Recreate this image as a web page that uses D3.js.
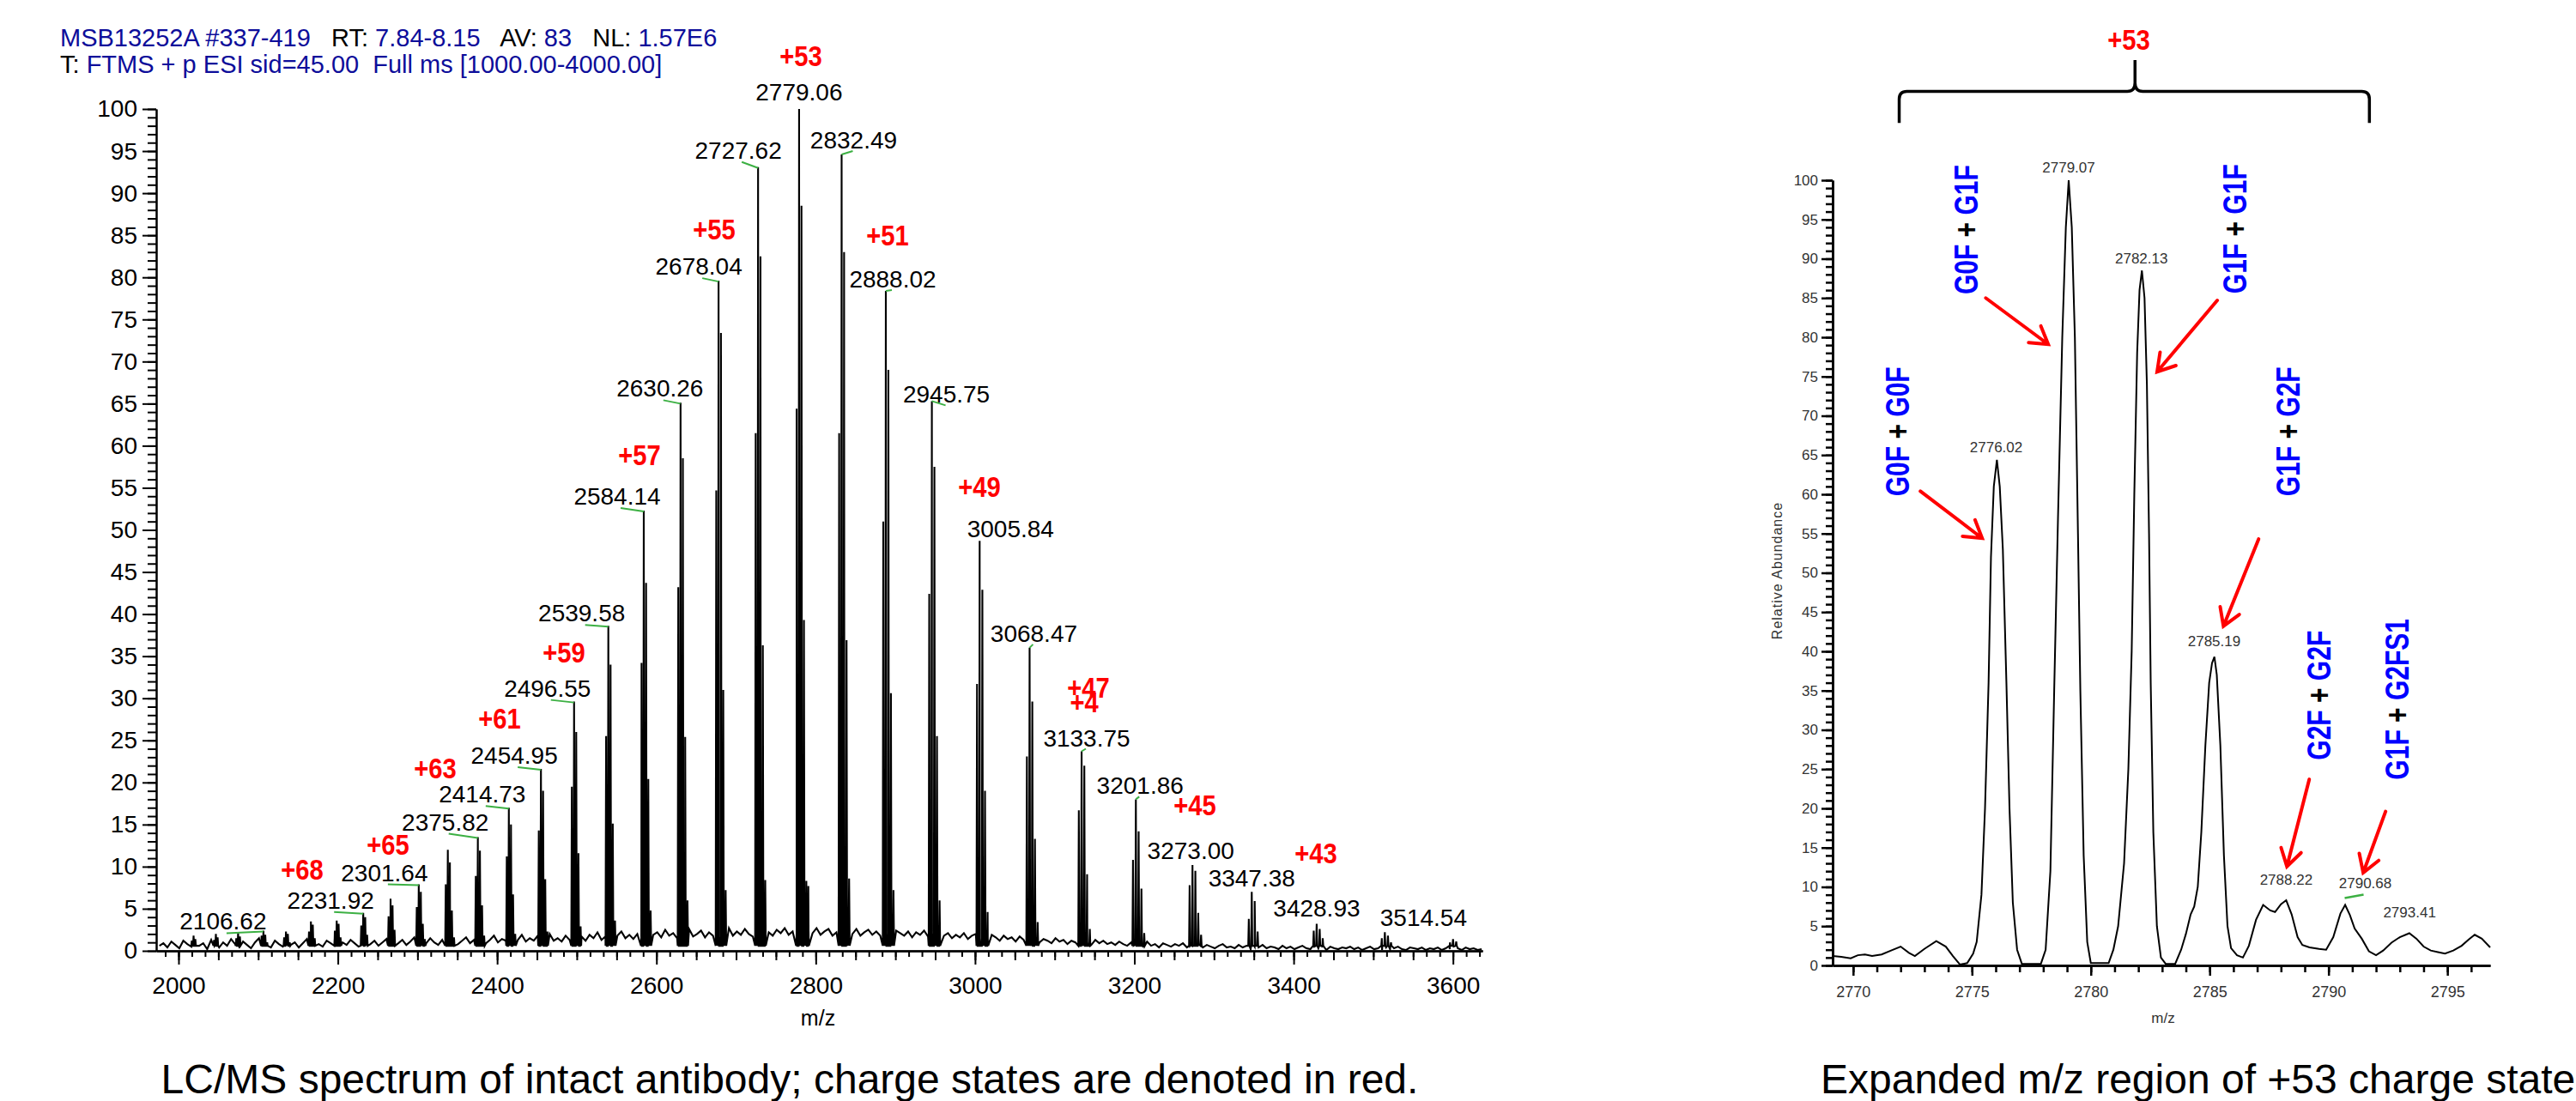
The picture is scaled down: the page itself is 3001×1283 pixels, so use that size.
<!DOCTYPE html>
<html>
<head>
<meta charset="utf-8">
<script src="https://cdn.jsdelivr.net/npm/d3@7"></script>
<style>
  body { margin: 0; background: #fff; }
  svg { display: block; }
  text { font-family: "Liberation Sans", Arial, sans-serif; }
</style>
</head>
<body>
<div id="chart"></div>
<script>
// ---------- left spectrum: full scan ----------
// sticks of each charge-state cluster, [m/z, relative abundance]
var clusterSticks = [
  [2016.7,1.2],[2018.9,1.8],[2021.1,1.4],
  [2044.6,1.3],[2046.9,2.0],[2049.1,1.6],
  [2072.5,1.5],[2074.8,2.1],[2077.1,1.7],
  [2104.3,1.8],[2106.6,2.4],[2108.9,1.9],[2111.3,1.0],
  [2132.6,1.6],[2134.9,2.3],[2137.3,2.0],[2139.6,1.0],
  [2163.8,2.3],[2166.2,3.5],[2168.6,3.1],[2171.0,1.5],
  [2196.2,2.4],[2198.6,3.6],[2201.0,3.2],[2203.4,1.6],
  [2229.4,3.0],[2231.9,4.5],[2234.4,4.0],[2236.8,1.9],
  [2263.7,4.1],[2266.2,6.2],[2268.7,5.4],[2271.2,2.5],
  [2299.1,5.2],[2301.6,7.9],[2304.2,7.0],[2306.7,3.2],[2309.2,1.4],
  [2335.5,7.9],[2338.1,12.0],[2340.7,10.5],[2343.2,4.8],[2345.8,1.6],
  [2373.2,8.9],[2375.8,13.5],[2378.4,11.9],[2381.1,5.4],[2383.7,1.8],
  [2412.1,11.2],[2414.7,17.0],[2417.4,15.0],[2420.0,6.7],[2422.7,2.0],
  [2452.3,14.3],[2455.0,21.6],[2457.7,19.0],[2460.4,8.5],[2463.1,2.3],
  [2493.8,19.5],[2496.6,29.6],[2499.3,26.0],[2502.1,11.6],[2504.8,2.9],
  [2536.8,25.5],[2539.6,38.6],[2542.4,34.0],[2545.2,15.1],[2548.0,3.6],
  [2581.3,34.2],[2584.1,52.3],[2587.0,43.7],[2589.8,20.4],[2592.7,4.8],
  [2627.4,43.2],[2630.3,65.1],[2633.2,58.5],[2636.1,25.4],[2639.0,6.0],
  [2675.1,54.7],[2678.0,79.6],[2681.0,73.4],[2683.9,31.0],[2686.9,7.2],
  [2724.6,61.5],[2727.6,93.1],[2730.6,82.5],[2733.6,36.3],[2736.6,8.4],
  [2776.0,64.4],[2779.1,100],[2782.1,88.5],[2785.2,39.3],[2788.2,8.3],[2790.7,7.7],
  [2829.4,61.5],[2832.5,94.6],[2835.6,83.0],[2838.7,36.9],[2841.9,8.6],
  [2884.8,51.0],[2888.0,78.4],[2891.2,69.0],[2894.4,30.6],[2897.6,7.2],
  [2942.5,42.4],[2945.8,65.3],[2949.0,57.5],[2952.2,25.5],[2955.5,6.0],
  [3002.5,31.7],[3005.8,48.7],[3009.2,42.9],[3012.5,19.0],[3015.8,4.6],
  [3065.1,23.1],[3068.5,36.0],[3071.9,29.6],[3075.2,13.3],[3078.6,3.4],
  [3130.3,16.7],[3133.8,23.7],[3137.2,22.0],[3140.7,9.1],[3144.1,2.6],
  [3198.3,10.8],[3201.9,18.0],[3205.4,14.2],[3208.9,7.4],[3212.4,2.1],
  [3269.4,7.8],[3273.0,10.2],[3276.6,9.5],[3280.2,4.5],[3283.8,1.9],
  [3343.7,3.8],[3347.4,7.0],[3351.1,5.9],[3354.8,2.3],
  [3425.2,2.4],[3428.9,3.2],[3432.7,2.6],[3436.5,1.5],
  [3510.7,1.5],[3514.5,2.2],[3518.4,1.8],[3522.2,1.0],
  [3596.2,1.0],[3600.1,1.4],[3604.1,1.1]
]

// baseline noise, one reading every 5 m/z from 1976
var noiseStartMz = 1976, noiseStepMz = 5
var noiseLevel = [
  0.6,0.9,0.4,1.1,0.7,0.3,1.2,0.8,0.5,1.0,0.6,0.9,0.2,1.3,0.7,0.4,1.0,0.6,1.4,0.8,
  0.5,1.1,0.7,0.3,1.0,1.5,0.6,0.9,0.4,1.2,0.8,0.5,1.3,0.7,1.0,0.4,0.9,1.4,0.6,1.1,
  0.8,0.5,1.2,0.9,1.5,0.6,1.0,0.7,1.3,0.9,0.5,1.1,1.6,0.8,1.2,0.6,1.0,1.4,0.7,1.2,
  0.9,1.3,0.7,1.1,1.6,0.8,1.2,0.9,1.5,1.0,0.7,1.3,1.7,1.0,1.4,0.8,1.2,1.6,0.9,1.3,
  1.1,1.5,0.9,1.3,1.8,1.0,1.4,1.2,1.7,1.0,1.3,1.9,1.1,1.5,1.2,1.8,1.0,1.4,2.0,1.2,
  1.5,1.1,1.8,1.3,2.1,1.4,1.7,1.2,1.9,1.5,2.2,1.3,1.7,2.0,1.4,1.8,2.3,1.5,1.9,1.4,
  2.0,1.6,2.4,1.5,1.9,2.2,1.6,2.5,1.8,2.1,1.5,2.3,1.9,2.6,1.7,2.0,2.4,1.6,2.2,1.8,
  2.5,1.7,2.1,2.7,1.8,2.3,1.9,2.6,2.0,1.7,2.4,2.8,1.9,2.2,1.8,2.5,2.1,2.7,1.9,2.3,
  2.0,2.6,1.8,2.4,2.1,2.7,1.9,2.3,2.6,1.8,2.2,2.5,1.9,2.4,2.0,2.6,1.8,2.2,2.5,1.9,
  2.3,1.8,2.5,2.0,1.7,2.4,2.1,1.8,2.3,1.6,2.2,1.9,2.4,1.7,2.0,1.6,2.2,1.8,2.1,1.5,
  1.9,1.6,2.1,1.4,1.8,2.0,1.5,1.7,1.3,1.9,1.6,1.2,1.8,1.4,1.6,1.1,1.7,1.3,1.5,1.2,
  1.6,1.0,1.4,1.2,0.9,1.5,1.1,1.3,0.8,1.2,1.0,1.4,0.9,1.1,0.7,1.3,0.9,1.2,0.8,1.0,
  0.7,1.1,0.8,0.6,1.0,0.7,0.9,0.5,1.1,0.6,0.8,0.4,0.9,0.7,0.5,0.8,0.6,0.9,0.4,0.7,
  0.6,0.8,0.4,0.7,0.5,0.3,0.6,0.8,0.4,0.5,0.3,0.7,0.4,0.6,0.2,0.5,0.4,0.7,0.3,0.5,
  0.4,0.2,0.6,0.3,0.5,0.2,0.4,0.6,0.3,0.2,0.5,0.3,0.4,0.1,0.5,0.3,0.2,0.4,0.3,0.5,
  0.2,0.4,0.1,0.3,0.5,0.2,0.3,0.1,0.4,0.2,0.3,0.5,0.2,0.1,0.4,0.3,0.2,0.4,0.1,0.3,
  0.2,0.4,0.1,0.3,0.2,0.5,0.3,0.1,0.4,0.2,0.3,0.1,0.2
]

// labelled peaks
var peakLabelMz  = [2106.62,2231.92,2301.64,2375.82,2414.73,2454.95,2496.55,2539.58,2584.14,2630.26,2678.04,2727.62,
                    2779.06,2832.49,2888.02,2945.75,3005.84,3068.47,3133.75,3201.86,3273.00,3347.38,3428.93,3514.54]
var peakLabelTop = [2.4,4.5,7.9,13.5,17.0,21.6,29.6,38.6,52.3,65.1,79.6,93.1,
                    100,94.6,78.4,65.3,48.7,36.0,23.7,18.0,10.2,7.0,3.2,2.2]

// charge states (red)
var chargeText = ['+68','+65','+63','+61','+59','+57','+55','+53','+51','+49','+47','+4','+45','+43']
var chargeAt   = [[2155.2,8.5],[2263.0,11.4],[2322.3,20.5],[2403.1,26.4],[2483.9,34.3],[2578.7,57.7],[2672.5,84.5],
                  [2781.4,105.1],[2890.2,83.8],[3005.5,53.9],[3142.4,30.1],[3137.0,28.3],[3276.0,16.1],[3428.0,10.4]]

var yTicksLeft = d3.range(0, 101, 5)
var xTicksLeft = d3.range(2000, 3601, 200)

// ---------- right spectrum: +53 zoom ----------
var insetProfile = [
  [2769.14,1.2],[2769.5,1.1],[2769.9,0.9],[2770.2,1.3],[2770.5,1.4],[2770.8,1.2],[2771.2,1.4],[2771.6,1.9],[2772.0,2.4],
  [2772.35,1.6],[2772.6,1.2],[2773.0,2.1],[2773.5,3.1],[2773.9,2.4],[2774.2,1.2],[2774.5,0.1],[2774.8,0.3],[2775.05,1.5],
  [2775.2,3],[2775.4,9],[2775.55,20],[2775.7,36],[2775.8,52],[2775.92,61],[2776.05,64.4],[2776.17,61],[2776.3,53],
  [2776.45,36],[2776.58,20],[2776.72,8],[2776.9,2],[2777.1,0.2],[2777.9,0.2],
  [2778.1,2],[2778.3,12],[2778.46,35],[2778.62,57],[2778.8,80],[2778.95,94],[2779.07,100],[2779.2,94],[2779.33,80],
  [2779.46,55],[2779.56,35],[2779.7,14],[2779.85,3],[2780.0,0.3],[2780.75,0.3],
  [2780.95,2],[2781.15,5],[2781.4,13],[2781.58,25],[2781.72,40],[2781.83,60],[2781.95,78],[2782.05,86],[2782.15,88.5],
  [2782.26,85],[2782.36,74],[2782.45,55],[2782.52,36],[2782.63,17],[2782.78,5],[2782.95,1],[2783.15,0.2],[2783.55,0.2],
  [2783.8,2],[2784.0,4],[2784.2,6.5],[2784.35,7.5],[2784.5,10],[2784.65,17],[2784.82,28],[2784.98,36],[2785.1,38.5],
  [2785.2,39.3],[2785.3,37],[2785.45,28],[2785.6,14],[2785.75,5],[2785.9,2.2],[2786.15,1.3],[2786.4,1.0],
  [2786.65,2.5],[2786.95,5.8],[2787.25,7.7],[2787.55,7.0],[2787.75,6.8],[2788.0,7.8],[2788.22,8.3],[2788.45,6.5],
  [2788.7,3.6],[2788.9,2.6],[2789.2,2.3],[2789.6,2.1],[2789.9,2.0],[2790.2,3.6],[2790.5,6.6],[2790.7,7.7],[2790.9,6.4],
  [2791.1,4.7],[2791.4,3.4],[2791.7,1.8],[2792.0,1.3],[2792.3,1.9],[2792.65,2.9],[2793.0,3.6],[2793.4,4.1],[2793.7,3.4],
  [2794.0,2.4],[2794.3,1.9],[2794.6,1.7],[2794.9,1.5],[2795.25,1.9],[2795.6,2.5],[2795.9,3.3],[2796.15,3.9],
  [2796.45,3.4],[2796.8,2.3]
]
var insetLabelMz  = [2776.02,2779.07,2782.13,2785.19,2788.22,2790.68,2793.41]
var insetLabelTop = [64.4,100,88.5,39.3,8.3,7.7,4.1]

var glycoPairs  = [['G0F','G1F'],['G0F','G0F'],['G1F','G1F'],['G1F','G2F'],['G2F','G2F'],['G1F','G2FS1']]
var glycoTextAt = [[2774.75,93.7],[2771.86,68.0],[2786.05,93.8],[2788.29,68.0],[2789.59,34.4],[2792.87,33.9]]
var arrowFrom   = [[2775.58,85.0],[2772.83,60.4],[2785.32,84.7],[2787.06,54.3],[2789.19,23.7],[2792.40,19.6]]
var arrowTo     = [[2778.21,79.1],[2775.43,54.4],[2782.79,75.6],[2785.58,43.2],[2788.25,12.6],[2791.46,11.8]]

var yTicksRight = d3.range(0, 101, 5)
var xTicksRight = d3.range(2770, 2796, 5)

// ---------- layout ----------
var W = 3001, H = 1283
var BLUE = '#0d0d9a', RED = '#ff0000', GREEN = '#3cb043'

var svg = d3.select('#chart').append('svg').attr('width', W).attr('height', H)
svg.append('rect').attr('width', W).attr('height', H).attr('fill', '#fff')

var xL = d3.scaleLinear().domain([1972, 3637]).range([182, 1727])
var yL = d3.scaleLinear().domain([0, 100]).range([1108, 127])

// label nudges in px (dx from peak, baseline relative to peak top)
var peakLabelNudge = [[-47,-1],[-38,-5],[-40,-4],[-38,-8],[-31,-6],[-31,-6],[-31,-6],[-31,-5],[-31,-7],[-24,-7],[-23,-7],[-23,-10],
                      [0,-10],[14,-7],[8,-4],[17,2],[36,-4],[5,-7],[6,-6],[5,-6],[-2,-7],[0,-6],[0,-9],[45,-7]]

// header
var head1 = [['MSB13252A #337-419', BLUE], ['   RT: ', '#000'], ['7.84-8.15', BLUE], ['   AV: ', '#000'], ['83', BLUE], ['   NL: ', '#000'], ['1.57E6', BLUE]]
var head2 = [['T: ', '#000'], ['FTMS + p ESI sid=45.00  Full ms [1000.00-4000.00]', BLUE]]
;[[head1, 54], [head2, 85]].forEach(function (h) {
  var t = svg.append('text').attr('x', 70).attr('y', h[1]).attr('font-size', 29).style('white-space', 'pre')
  h[0].forEach(function (p) { t.append('tspan').attr('fill', p[1]).text(p[0]) })
})

function styleAxis(g, fs, family, color, width) {
  g.attr('font-size', fs).attr('font-family', family)
  g.selectAll('path.domain').attr('stroke', '#000').attr('stroke-width', width)
  g.selectAll('line').attr('stroke', '#000').attr('stroke-width', width)
  g.selectAll('text').attr('fill', color)
}

// left axes
var gy1 = svg.append('g').attr('transform', 'translate(182,0)')
  .call(d3.axisLeft(yL).tickValues(d3.range(0, 101, 1)).tickSize(10).tickSizeOuter(0).tickFormat(''))
styleAxis(gy1, 28, '"Liberation Sans", Arial', '#000', 2)
var gy2 = svg.append('g').attr('transform', 'translate(182,0)')
  .call(d3.axisLeft(yL).tickValues(yTicksLeft).tickSize(16).tickSizeOuter(0).tickPadding(6))
styleAxis(gy2, 28, '"Liberation Sans", Arial', '#000', 2)

var minorX = d3.range(0, 100).map(function (i) { return 1983.3333 + i * 50 / 3 }).filter(function (v) { return v < 3637 })
var gx1 = svg.append('g').attr('transform', 'translate(0,1108)')
  .call(d3.axisBottom(xL).tickValues(minorX).tickSize(7).tickSizeOuter(0).tickFormat(''))
styleAxis(gx1, 28, '"Liberation Sans", Arial', '#000', 2)
var gx2 = svg.append('g').attr('transform', 'translate(0,1108)')
  .call(d3.axisBottom(xL).tickValues(d3.range(2000, 3637, 50)).tickSize(11).tickSizeOuter(0).tickFormat(''))
styleAxis(gx2, 28, '"Liberation Sans", Arial', '#000', 2)
var gx3 = svg.append('g').attr('transform', 'translate(0,1108)')
  .call(d3.axisBottom(xL).tickValues(xTicksLeft).tickSize(16).tickSizeOuter(0).tickPadding(14).tickFormat(d3.format('d')))
styleAxis(gx3, 28, '"Liberation Sans", Arial', '#000', 2)

svg.append('text').attr('x', 953).attr('y', 1195).attr('text-anchor', 'middle').attr('font-size', 25).text('m/z')

// left trace: noise + sticks merged along m/z
var pts = noiseLevel.map(function (v, i) { return [noiseStartMz + i * noiseStepMz, v] })
clusterSticks.forEach(function (s) {
  pts.push([s[0] - 0.7, 0.6], [s[0], s[1]], [s[0] + 0.7, 0.6])
})
pts.sort(function (a, b) { return a[0] - b[0] })
svg.append('path').datum(pts)
  .attr('d', d3.line().x(function (d) { return xL(d[0]) }).y(function (d) { return yL(d[1]) }))
  .attr('fill', 'none').attr('stroke', '#000').attr('stroke-width', 2.1).attr('stroke-linejoin', 'miter')

// peak labels + green leader
peakLabelMz.forEach(function (m, i) {
  var px = xL(m), top = yL(peakLabelTop[i])
  var cx = px + peakLabelNudge[i][0], by = top + peakLabelNudge[i][1]
  svg.append('text').attr('x', cx).attr('y', by).attr('text-anchor', 'middle').attr('font-size', 28).text(m.toFixed(2))
  var dx = peakLabelNudge[i][0]
  if (dx < -3) {
    svg.append('line').attr('x1', cx + 4).attr('y1', by + 4).attr('x2', px).attr('y2', top + 1)
      .attr('stroke', GREEN).attr('stroke-width', 2)
  } else if (dx > 3 && dx < 30) {
    svg.append('line').attr('x1', px).attr('y1', top).attr('x2', cx - 1).attr('y2', by + 3)
      .attr('stroke', GREEN).attr('stroke-width', 2)
  }
})

// charge state labels
chargeText.forEach(function (t, i) {
  svg.append('g').attr('transform', 'translate(' + xL(chargeAt[i][0]) + ',' + yL(chargeAt[i][1]) + ') scale(0.86,1)')
    .append('text').attr('text-anchor', 'middle').attr('font-size', 34).attr('font-weight', 'bold')
    .attr('fill', RED).text(t)
})

svg.append('text').attr('x', 920).attr('y', 1274).attr('text-anchor', 'middle').attr('font-size', 48)
  .text('LC/MS spectrum of intact antibody; charge states are denoted in red.')

// ---------- right chart ----------
var xR = d3.scaleLinear().domain([2769.14, 2796.8]).range([2135, 2901])
var yR = d3.scaleLinear().domain([0, 100]).range([1125, 210])
var insetLabelNudge = [[0,-9],[0,-9],[0,-8],[0,-12],[0,-18],[24,-20],[0,-18]]
var SMALL = '"DejaVu Sans", Verdana, sans-serif'

var ry1 = svg.append('g').attr('transform', 'translate(2135,0)')
  .call(d3.axisLeft(yR).tickValues(d3.range(0, 101, 1)).tickSize(8).tickSizeOuter(0).tickFormat(''))
styleAxis(ry1, 17, SMALL, '#333', 2.5)
var ry2 = svg.append('g').attr('transform', 'translate(2135,0)')
  .call(d3.axisLeft(yR).tickValues(yTicksRight).tickSize(13).tickSizeOuter(0).tickPadding(4))
styleAxis(ry2, 17, SMALL, '#333', 2.5)
var rx1 = svg.append('g').attr('transform', 'translate(0,1125)')
  .call(d3.axisBottom(xR).tickValues(d3.range(2770, 2797, 1)).tickSize(8).tickSizeOuter(0).tickFormat(''))
styleAxis(rx1, 18, SMALL, '#333', 2.5)
var rx2 = svg.append('g').attr('transform', 'translate(0,1125)')
  .call(d3.axisBottom(xR).tickValues(xTicksRight).tickSize(12).tickSizeOuter(0).tickPadding(12).tickFormat(d3.format('d')))
styleAxis(rx2, 18, SMALL, '#333', 2.5)

svg.append('text').attr('x', 2520).attr('y', 1192).attr('text-anchor', 'middle')
  .attr('font-family', SMALL).attr('font-size', 17).attr('fill', '#333').text('m/z')
svg.append('text').attr('transform', 'translate(2076,665) rotate(-90)').attr('text-anchor', 'middle')
  .attr('font-family', SMALL).attr('font-size', 16).attr('letter-spacing', 1).attr('fill', '#333').text('Relative Abundance')

svg.append('path').datum(insetProfile)
  .attr('d', d3.line().x(function (d) { return xR(d[0]) }).y(function (d) { return yR(d[1]) }))
  .attr('fill', 'none').attr('stroke', '#000').attr('stroke-width', 2)

insetLabelMz.forEach(function (m, i) {
  var px = xR(m), top = yR(insetLabelTop[i])
  var cx = px + insetLabelNudge[i][0], by = top + insetLabelNudge[i][1]
  svg.append('text').attr('x', cx).attr('y', by).attr('text-anchor', 'middle')
    .attr('font-family', SMALL).attr('font-size', 17).attr('fill', '#333').text(m.toFixed(2))
  if (insetLabelNudge[i][0] > 3) {
    svg.append('line').attr('x1', px).attr('y1', by + 12).attr('x2', cx - 2).attr('y2', by + 8)
      .attr('stroke', GREEN).attr('stroke-width', 2.5)
  }
})

// glycoform annotations
glycoPairs.forEach(function (p, i) {
  var t = svg.append('g')
    .attr('transform', 'translate(' + xR(glycoTextAt[i][0]) + ',' + yR(glycoTextAt[i][1]) + ') rotate(-90) scale(0.79,1)')
    .append('text').attr('text-anchor', 'middle').attr('dy', '0.36em').attr('font-size', 38).attr('font-weight', 'bold')
    .style('white-space', 'pre')
  t.append('tspan').attr('fill', '#0000ff').text(p[0])
  t.append('tspan').attr('fill', '#000').text(' + ')
  t.append('tspan').attr('fill', '#0000ff').text(p[1])
})

arrowFrom.forEach(function (f, i) {
  var x1 = xR(f[0]), y1 = yR(f[1]), x2 = xR(arrowTo[i][0]), y2 = yR(arrowTo[i][1])
  var a = Math.atan2(y2 - y1, x2 - x1), L = 23, s = 0.55
  var w1 = [x2 - L * Math.cos(a - s), y2 - L * Math.sin(a - s)]
  var w2 = [x2 - L * Math.cos(a + s), y2 - L * Math.sin(a + s)]
  svg.append('path')
    .attr('d', 'M' + x1 + ',' + y1 + 'L' + x2 + ',' + y2 + 'M' + w1 + 'L' + x2 + ',' + y2 + 'L' + w2)
    .attr('fill', 'none').attr('stroke', RED).attr('stroke-width', 4).attr('stroke-linecap', 'round')
})

// brace over the +53 envelope
var bx1 = xR(2771.94), bx2 = xR(2791.72), bxa = xR(2781.86)
var by0 = yR(111.3), byEnd = yR(107.3), byTop = yR(115.3)
svg.append('path')
  .attr('d', 'M' + bx1 + ',' + byEnd + 'L' + bx1 + ',' + (by0 + 9) + 'Q' + bx1 + ',' + by0 + ' ' + (bx1 + 9) + ',' + by0 +
    'L' + (bxa - 9) + ',' + by0 + 'Q' + bxa + ',' + by0 + ' ' + bxa + ',' + (by0 - 10) + 'L' + bxa + ',' + byTop +
    'M' + bxa + ',' + (by0 - 10) + 'Q' + bxa + ',' + by0 + ' ' + (bxa + 9) + ',' + by0 +
    'L' + (bx2 - 9) + ',' + by0 + 'Q' + bx2 + ',' + by0 + ' ' + bx2 + ',' + (by0 + 9) + 'L' + bx2 + ',' + byEnd)
  .attr('fill', 'none').attr('stroke', '#000').attr('stroke-width', 3.5)
svg.append('g').attr('transform', 'translate(' + xR(2781.6) + ',' + yR(116.6) + ') scale(0.86,1)')
  .append('text').attr('text-anchor', 'middle').attr('font-size', 34).attr('font-weight', 'bold').attr('fill', RED).text('+53')

svg.append('text').attr('x', 2121).attr('y', 1274).attr('font-size', 48).text('Expanded m/z region of +53 charge state')
</script>
</body>
</html>
